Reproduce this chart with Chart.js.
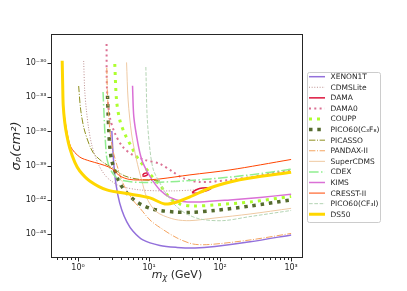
<!DOCTYPE html>
<html>
<head>
<meta charset="utf-8">
<script src="https://cdn.jsdelivr.net/npm/chart.js@4.4.0/dist/chart.umd.min.js"></script>
<style>
  html, body { margin: 0; padding: 0; background: #fff; }
</style>
</head>
<body>
<canvas id="chart" width="407" height="291"></canvas>
<script>
// WIMP mass in GeV, cross section in cm^2
const xenon1tMass = [2.99, 3.09, 3.29, 3.63, 4.13, 4.86, 5.91, 8.18, 14.2, 24.7, 44.3, 84.7, 264, 1000];
const xenon1tSigma = [1.1e-36, 2.3e-38, 1.5e-40, 2.6e-42, 1.2e-43, 1.1e-44, 1.7e-45, 2.8e-46, 9.1e-47, 6.2e-47, 5.5e-47, 7.4e-47, 1.9e-46, 7.8e-46];

const cdmsliteMass = [1.20, 1.24, 1.31, 1.42, 1.56, 1.78, 2.02, 2.38, 2.80, 3.87, 7.42, 19.7, 45.7];
const cdmsliteSigma = [1.6e-30, 4.5e-33, 7.8e-35, 1.35e-36, 6.5e-38, 4.6e-39, 7.4e-40, 1.5e-40, 5.4e-41, 1.6e-41, 7.1e-42, 5.8e-42, 7.1e-42];

// two closed regions, split by a gap
const damaMass = [8.05, 8.59, 9.31, 9.77, 9.16, 8.45, 8.05, null, 40.2, 47.2, 57.4, 69.7, 74.5, 65.3, 53.8, 45.7, 40.2];
const damaSigma = [1.32e-40, 2.0e-40, 2.2e-40, 1.8e-40, 1.32e-40, 1.15e-40, 1.32e-40, null, 4.3e-42, 7.8e-42, 1.05e-41, 1.1e-41, 9.5e-42, 6.3e-42, 4.7e-42, 3.6e-42, 4.3e-42];

const dama0Mass = [2.52, 2.56, 2.80, 3.29, 4.27, 5.91, 8.73, 14.2, 21.7, 30.0, 52.1, 138, 365, 1000];
const dama0Sigma = [5.0e-29, 4.5e-33, 1.9e-35, 7.2e-37, 4.3e-38, 8.5e-39, 3.1e-39, 1.4e-39, 2.7e-40, 7.9e-41, 3.5e-41, 5.4e-41, 1.3e-40, 4.5e-40];

const couppMass = [3.29, 3.48, 3.87, 4.56, 5.67, 7.02, 8.73, 10.3, 14.2, 19.7, 27.2, 41.5, 84.7, 264, 1000];
const couppSigma = [8.7e-31, 5.9e-34, 1.0e-35, 6.0e-37, 4.3e-38, 3.7e-39, 7.4e-40, 1.8e-40, 1.9e-41, 1.4e-42, 4.1e-43, 2.7e-43, 3.4e-43, 6.2e-43, 1.9e-42];

const pico60c3f8Mass = [2.60, 2.65, 2.71, 2.80, 2.99, 3.63, 4.27, 5.02, 6.30, 7.91, 10.3, 14.2, 23.1, 37.6, 84.7, 264, 1000];
const pico60c3f8Sigma = [1.4e-33, 3.5e-35, 1.1e-36, 4.3e-38, 2.5e-39, 6.6e-41, 1.05e-41, 3.1e-42, 8.3e-43, 3.4e-43, 1.7e-43, 1.1e-43, 8.1e-44, 7.4e-44, 1.1e-43, 2.7e-43, 9.3e-43];

const picassoMass = [1.02, 1.09, 1.24, 1.61, 2.23, 3.09, 4.56, 7.42, 14.2];
const picassoSigma = [1.0e-32, 7.8e-35, 1.1e-36, 1.55e-38, 2.0e-39, 6.0e-40, 1.2e-40, 5.9e-41, 4.4e-41];

const pandaxMass = [2.54, 2.58, 2.67, 2.80, 3.09, 3.63, 4.27, 5.91, 7.42, 10.3, 14.2, 24.7, 41.5, 72.1, 264, 1000];
const pandaxSigma = [3.9e-31, 4.5e-33, 7.8e-35, 1.35e-36, 2.3e-38, 6.0e-40, 2.9e-41, 9.3e-43, 1.8e-43, 1.6e-44, 3.5e-45, 4.2e-46, 1.23e-46, 1.12e-46, 2.8e-46, 1.05e-45];

const supercdmsMass = [4.82, 5.07, 5.67, 6.66, 7.84, 9.31, 11.3, 14.2, 23.1, 37.6, 84.7, 264, 1000];
const supercdmsSigma = [1.2e-30, 5.9e-34, 6.0e-37, 3.1e-39, 5.4e-41, 1.4e-42, 1.8e-43, 5.4e-44, 1.8e-44, 1.4e-44, 2.4e-44, 5.4e-44, 1.7e-43];

const cdexMass = [2.25, 2.34, 2.42, 2.54, 2.80, 3.29, 4.27, 8.18, 24.7, 72.1, 264, 1000];
const cdexSigma = [2.95e-33, 1.0e-35, 1.8e-37, 4.6e-39, 6.0e-40, 1.2e-40, 4.8e-41, 3.2e-41, 4.0e-41, 6.6e-41, 1.5e-40, 4.7e-40];

const kimsMass = [5.85, 6.10, 6.95, 7.91, 9.31, 11.3, 14.2, 19.7, 30.0, 52.1, 138, 365, 1000];
const kimsSigma = [1.07e-32, 1.9e-35, 9.5e-38, 3.1e-39, 3.3e-40, 4.4e-41, 7.1e-42, 1.55e-42, 6.8e-43, 6.2e-43, 9.3e-43, 1.55e-42, 2.95e-42];

const cresstMass = [0.635, 0.69, 0.79, 1.057, 1.46, 2.02, 2.80, 3.29, 3.87, 5.36, 8.73, 14.2, 37.6, 138, 1000];
const cresstSigma = [3.5e-35, 1.35e-36, 4.3e-38, 5.6e-39, 2.5e-39, 1.4e-39, 6.8e-40, 3.3e-40, 1.2e-40, 5.9e-41, 5.4e-41, 6.6e-41, 1.5e-40, 4.1e-40, 3.4e-39];

const pico60cf3iMass = [9.01, 9.40, 10.3, 11.5, 14.2, 17.8, 23.1, 32.0, 52.1, 110, 264, 1000];
const pico60cf3iSigma = [4.7e-31, 1.9e-35, 2.3e-38, 4.1e-40, 2.9e-41, 2.6e-42, 3.4e-43, 6.6e-44, 1.95e-44, 1.4e-44, 3.2e-44, 1.1e-43];

const ds50Mass = [0.598, 0.608, 0.618, 0.649, 0.693, 0.764, 0.898, 1.057, 1.46, 2.54, 5.36, 10.3, 16.7, 24.7, 37.6, 72.1, 138, 264, 1000];
const ds50Sigma = [1.7e-30, 1.2e-32, 2.1e-34, 6.8e-36, 4.9e-37, 3.5e-38, 2.0e-39, 3.3e-40, 4.4e-41, 7.1e-42, 3.1e-42, 1.4e-42, 4.1e-43, 6.2e-43, 1.7e-42, 1.05e-41, 3.5e-41, 7.9e-41, 2.5e-40];

// axes
const xTicks = [1, 10, 100, 1000];
const yTicks = [1e-30, 1e-33, 1e-36, 1e-39, 1e-42, 1e-45];
const xMin = 0.416, xMax = 1470;
const yMin = 7.2e-48, yMax = 3.8e-28;

const dotted = w => [w, 1.65 * w];
const dashdot = w => [6.4 * w, 1.6 * w, w, 1.6 * w];
const dashed = w => [3.7 * w, 1.6 * w];

const series = [
    { label: 'XENON1T', mass: xenon1tMass, sigma: xenon1tSigma, color: '#9370DB', width: 1.5, dash: [] },
    { label: 'CDMSLite', mass: cdmsliteMass, sigma: cdmsliteSigma, color: '#BC8F8F', width: 1, dash: dotted(1) },
    { label: 'DAMA', mass: damaMass, sigma: damaSigma, color: '#DC143C', width: 1.5, dash: [], tension: 0.45 },
    { label: 'DAMA0', mass: dama0Mass, sigma: dama0Sigma, color: '#DB7093', width: 2, dash: dotted(2) },
    { label: 'COUPP', mass: couppMass, sigma: couppSigma, color: '#ADFF2F', width: 3, dash: [3, 5] },
    { label: 'PICO60(C\u2083F\u2088)', mass: pico60c3f8Mass, sigma: pico60c3f8Sigma, color: '#556B2F', width: 3.5, dash: [3.5, 4.8] },
    { label: 'PICASSO', mass: picassoMass, sigma: picassoSigma, color: '#8F8F1E', width: 1, dash: dashdot(1) },
    { label: 'PANDAX-II', mass: pandaxMass, sigma: pandaxSigma, color: '#F4A460', width: 1, dash: dashdot(1) },
    { label: 'SuperCDMS', mass: supercdmsMass, sigma: supercdmsSigma, color: '#EFC9A2', width: 1, dash: [] },
    { label: 'CDEX', mass: cdexMass, sigma: cdexSigma, color: '#90EE90', width: 1.5, dash: dashdot(1.5) },
    { label: 'KIMS', mass: kimsMass, sigma: kimsSigma, color: '#DA70D6', width: 1.5, dash: [] },
    { label: 'CRESST-II', mass: cresstMass, sigma: cresstSigma, color: '#FF4500', width: 1, dash: [] },
    { label: 'PICO60(CF\u2083I)', mass: pico60cf3iMass, sigma: pico60cf3iSigma, color: '#B4D4B4', width: 1, dash: dashed(1) },
    { label: 'DS50', mass: ds50Mass, sigma: ds50Sigma, color: '#FFD700', width: 3, dash: [] }
];

const SUP = { '-': '\u207B', '0': '\u2070', '1': '\u00B9', '2': '\u00B2', '3': '\u00B3', '4': '\u2074',
    '5': '\u2075', '6': '\u2076', '7': '\u2077', '8': '\u2078', '9': '\u2079' };
function powLabel(v) {
    const e = String(Math.round(Math.log10(v)));
    return '10' + e.split('').map(c => SUP[c]).join('');
}

const FONT = "'DejaVu Sans', sans-serif";
const INK = '#262626';

// frame, tick marks, axis titles and legend
const decor = {
    id: 'decor',
    afterDraw(chart) {
        const { ctx, chartArea: a, scales: { x, y } } = chart;
        ctx.save();
        ctx.strokeStyle = INK;
        ctx.lineWidth = 1;
        ctx.setLineDash([]);
        ctx.beginPath();
        // x ticks: majors + minors
        for (let d = -1; d <= 3; d++) {
            for (let k = 1; k <= 9; k++) {
                const v = k * Math.pow(10, d);
                if (v < xMin || v > xMax) continue;
                const px = Math.round(x.getPixelForValue(v)) + 0.5;
                const len = k === 1 ? 3.5 : 2;
                ctx.moveTo(px, a.bottom);
                ctx.lineTo(px, a.bottom + len);
            }
        }
        yTicks.forEach(v => {
            const py = Math.round(y.getPixelForValue(v)) + 0.5;
            ctx.moveTo(a.left, py);
            ctx.lineTo(a.left - 3.5, py);
        });
        ctx.stroke();
        ctx.strokeRect(a.left + 0.5, a.top + 0.5, a.right - a.left - 1, a.bottom - a.top - 1);

        // axis titles
        ctx.fillStyle = INK;
        ctx.textBaseline = 'middle';
        ctx.textAlign = 'center';
        ctx.save();
        ctx.translate(17, (a.top + a.bottom) / 2);
        ctx.rotate(-Math.PI / 2);
        ctx.font = 'italic 13px ' + FONT;
        ctx.fillText('\u03C3\u209A(cm\u00B2)', 0, 0);
        ctx.restore();

        const parts = [
            { t: 'm', f: 'italic 11px ' + FONT, dy: 0 },
            { t: '\u03C7', f: 'italic 8px ' + FONT, dy: 2.5 },
            { t: ' (GeV)', f: '11px ' + FONT, dy: 0 }
        ];
        let total = 0;
        parts.forEach(p => { ctx.font = p.f; p.w = ctx.measureText(p.t).width; total += p.w; });
        let cx = (a.left + a.right) / 2 - total / 2;
        ctx.textAlign = 'left';
        parts.forEach(p => { ctx.font = p.f; ctx.fillText(p.t, cx, 275 + p.dy); cx += p.w; });

        // legend
        const lx = a.right + 4.5, ly = 72.5, lw = 73, lh = 150, row = 10.58;
        ctx.fillStyle = 'rgba(255,255,255,0.8)';
        ctx.strokeStyle = '#cccccc';
        ctx.beginPath();
        ctx.roundRect(lx, ly, lw, lh, 2);
        ctx.fill();
        ctx.stroke();
        ctx.font = '7.5px ' + FONT;
        ctx.textAlign = 'left';
        chart.data.datasets.forEach((ds, i) => {
            const ry = 76.7 + i * row;
            ctx.strokeStyle = ds.borderColor;
            ctx.lineWidth = ds.borderWidth;
            ctx.setLineDash(ds.borderDash);
            ctx.beginPath();
            ctx.moveTo(lx + 1.5, ry);
            ctx.lineTo(lx + 17.5, ry);
            ctx.stroke();
            ctx.setLineDash([]);
            ctx.fillStyle = INK;
            ctx.fillText(ds.label, lx + 23, ry + 0.5);
        });
        ctx.restore();
    }
};

new Chart(document.getElementById('chart'), {
    type: 'scatter',
    data: {
        datasets: series.map((s, i) => ({
            label: s.label,
            data: s.mass.map((m, j) => ({ x: m, y: s.sigma[j] })),
            showLine: true,
            borderColor: s.color,
            backgroundColor: s.color,
            borderWidth: s.width,
            borderDash: s.dash,
            borderCapStyle: 'butt',
            pointRadius: 0,
            tension: s.tension !== undefined ? s.tension : 0.3,
            spanGaps: false,
            order: series.length - i
        }))
    },
    options: {
        responsive: false,
        animation: false,
        events: [],
        layout: { padding: { top: 34, right: 104, left: 0, bottom: 0 } },
        plugins: { legend: { display: false }, tooltip: { enabled: false } },
        scales: {
            x: {
                type: 'logarithmic',
                min: xMin,
                max: xMax,
                bounds: 'data',
                afterBuildTicks: s => { s.ticks = xTicks.map(v => ({ value: v })); },
                afterFit: s => { s.height = 33; },
                grid: { display: false, drawTicks: true, tickLength: 3.5 },
                border: { display: false },
                ticks: {
                    autoSkip: false, maxRotation: 0, padding: 1.5,
                    color: INK, font: { family: FONT, size: 8 },
                    callback: v => powLabel(v)
                }
            },
            y: {
                type: 'logarithmic',
                min: yMin,
                max: yMax,
                bounds: 'data',
                afterBuildTicks: s => { s.ticks = yTicks.map(v => ({ value: v })); },
                afterFit: s => { s.width = 51; },
                grid: { display: false, drawTicks: true, tickLength: 3.5 },
                border: { display: false },
                ticks: {
                    autoSkip: false, padding: 1,
                    color: INK, font: { family: FONT, size: 8 },
                    callback: v => powLabel(v)
                }
            }
        }
    },
    plugins: [decor]
});
</script>
</body>
</html>
